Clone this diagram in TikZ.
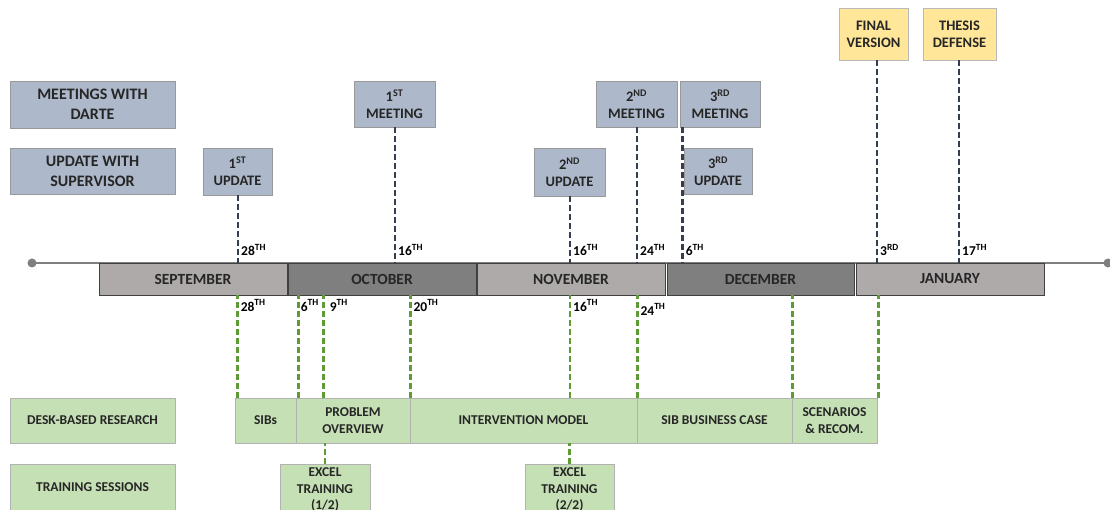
\documentclass[tikz,border=0pt]{standalone}
\usepackage{fontspec}
\setmainfont{Carlito}
\usetikzlibrary{calc}
\definecolor{bgrey}{HTML}{ADB9CA}
\definecolor{ylw}{HTML}{FFE699}
\definecolor{grn}{HTML}{C5E0B4}
\definecolor{mlight}{HTML}{AEAAAA}
\definecolor{mdark}{HTML}{7F7F7F}
\definecolor{navy}{HTML}{333F50}
\definecolor{gdark}{HTML}{5E9A36}
\definecolor{txt}{HTML}{262626}
\newcommand{\ordn}[2]{#1\textsuperscript{#2}}
\tikzset{
  base/.style={rectangle, inner sep=0pt, align=center, text=txt, font=\bfseries},
  bigf/.style={font=\fontsize{16}{20}\selectfont\bfseries},
  midf/.style={font=\fontsize{14.5}{17}\selectfont\bfseries},
  smf/.style={font=\fontsize{13.5}{16.5}\selectfont\bfseries},
  bluebox/.style={base, fill=bgrey, draw=gray!80, line width=0.8pt},
  yelbox/.style={base, fill=ylw, draw=gray!55, line width=0.8pt},
  grnbox/.style={base, fill=grn, draw=gray!60, line width=0.8pt},
  monthL/.style={base, font=\fontsize{15.5}{18}\selectfont\bfseries, fill=mlight, draw=black!75, line width=0.8pt, minimum width=188pt, minimum height=32pt},
  monthD/.style={monthL, fill=mdark},
  ndash/.style={draw=navy, line width=2.6pt, dash pattern=on 6pt off 3pt},
  gdash/.style={draw=gdark, line width=2.6pt, dash pattern=on 6pt off 3pt},
  datel/.style={inner sep=0pt, anchor=west, text=black, font=\fontsize{13.5}{15}\selectfont\bfseries},
}
\begin{document}
\begin{tikzpicture}[x=1pt,y=-1pt]
\useasboundingbox (0,0) rectangle (1110,510);
% timeline
\coordinate (tlA) at (32,263);
\coordinate (tlB) at (1108,263);
\draw[draw=mdark, line width=2pt] (tlA) -- (tlB);
\fill[mdark] (tlA) circle (4.5pt);
\fill[mdark] (tlB) circle (4.5pt);
% months
\node[monthL] (sep) at (193,279) {SEPTEMBER};
\node[monthD] (oct) at (382,279) {OCTOBER};
\node[monthL] (nov) at (571,279) {NOVEMBER};
\node[monthD, minimum width=187pt] (dec) at (760.5,279) {DECEMBER};
\node[monthL] (jan) at (950,279) {JANUARY};
% left labels
\node[bluebox, bigf, minimum width=165pt, minimum height=47pt] (mdarte) at (92.5,104.5) {MEETINGS WITH\\DARTE};
\node[bluebox, bigf, minimum width=165pt, minimum height=46pt] (usup) at (92.5,171) {UPDATE WITH\\SUPERVISOR};
% events
\node[bluebox, midf, minimum width=69pt, minimum height=47pt] (u1) at (237.5,171.5) {\ordn{1}{ST}\\UPDATE};
\node[bluebox, midf, minimum width=81pt, minimum height=46pt] (m1) at (394.5,104) {\ordn{1}{ST}\\MEETING};
\node[bluebox, midf, minimum width=71pt, minimum height=48pt] (u2) at (569.5,172) {\ordn{2}{ND}\\UPDATE};
\node[bluebox, midf, minimum width=81pt, minimum height=46pt] (m2) at (636.5,104) {\ordn{2}{ND}\\MEETING};
\node[bluebox, midf, minimum width=80pt, minimum height=46pt] (m3) at (720,104) {\ordn{3}{RD}\\MEETING};
\node[bluebox, midf, minimum width=68pt, minimum height=46pt] (u3) at (718,171) {\ordn{3}{RD}\\UPDATE};
\node[yelbox, midf, minimum width=69pt, minimum height=52pt] (fv) at (873.5,34) {FINAL\\VERSION};
\node[yelbox, midf, minimum width=73pt, minimum height=52pt] (td) at (959.5,34) {THESIS\\DEFENSE};
% navy dashed connectors
\draw[ndash] ($(u1.south)+(0.5,0)$) -- ($(u1.south |- sep.north)+(0.5,0)$) coordinate (a1);
\draw[ndash] ($(m1.south)+(0.5,0)$) -- ($(m1.south |- oct.north)+(0.5,0)$) coordinate (a2);
\draw[ndash] ($(u2.south)+(0.5,0)$) -- ($(u2.south |- nov.north)+(0.5,0)$) coordinate (a3);
\draw[ndash] ($(m2.south)+(0.5,0)$) -- ($(m2.south |- nov.north)+(0.5,0)$) coordinate (a4);
\draw[ndash] ($(m3.south west)+(3,0)$) -- ($(m3.south west |- dec.north)+(3,0)$) coordinate (a5);
\draw[ndash] ($(fv.south)+(3.5,0)$) -- ($(fv.south |- jan.north)+(3.5,0)$) coordinate (a6);
\draw[ndash] ($(td.south)+(-0.5,0)$) -- ($(td.south |- jan.north)+(-0.5,0)$) coordinate (a7);
\node[datel] (d1) at ($(a1)+(3,-13)$) {\ordn{28}{TH}};
\node[datel] (d2) at ($(a2)+(3,-13)$) {\ordn{16}{TH}};
\node[datel] (d3) at ($(a3)+(3,-13)$) {\ordn{16}{TH}};
\node[datel] (d4) at ($(a4)+(3,-13)$) {\ordn{24}{TH}};
\node[datel] (d5) at ($(a5)+(3,-13)$) {\ordn{6}{TH}};
\node[datel] (d6) at ($(a6)+(3,-13)$) {\ordn{3}{RD}};
\node[datel] (d7) at ($(a7)+(3,-13)$) {\ordn{17}{TH}};
% research row
\node[grnbox, smf, minimum width=165pt, minimum height=45pt] (desk) at (92.5,420.5) {DESK-BASED RESEARCH};
\node[grnbox, smf, minimum width=61pt, minimum height=45pt] (sibs) at (265.5,420.5) {SIBs};
\node[grnbox, smf, minimum width=114pt, minimum height=45pt] (po) at (353,420.5) {PROBLEM\\OVERVIEW};
\node[grnbox, smf, minimum width=227pt, minimum height=45pt] (im) at (523.5,420.5) {INTERVENTION MODEL};
\node[grnbox, smf, minimum width=155pt, minimum height=45pt] (sbc) at (714.5,420.5) {SIB BUSINESS CASE};
\node[grnbox, smf, minimum width=85pt, minimum height=45pt] (scen) at (834.5,420.5) {SCENARIOS\\\& RECOM.};
% training row
\node[grnbox, smf, minimum width=165pt, minimum height=46pt] (tsess) at (92.5,487) {TRAINING SESSIONS};
\node[grnbox, smf, minimum width=90pt, minimum height=52pt] (ex1) at (325,490) {EXCEL\\TRAINING\\(1/2)};
\node[grnbox, smf, minimum width=89pt, minimum height=52pt] (ex2) at (569.5,490) {EXCEL\\TRAINING\\(2/2)};
% green dashed connectors
\draw[gdash] ($(sibs.north west)+(3,0)$) -- ($(sibs.north west |- sep.south)+(3,0)$) coordinate (b1);
\draw[gdash] ($(po.north west)+(3,0)$) -- ($(po.north west |- oct.south)+(3,0)$) coordinate (b2);
\draw[gdash] ($(po.north west)+(28,0)$) -- ($(po.north west |- oct.south)+(28,0)$) coordinate (b3);
\draw[gdash] (po.north east) -- (po.north east |- oct.south) coordinate (b4);
\draw[gdash] ($(im.north)+(46.5,0)$) -- ($(im.north |- nov.south)+(46.5,0)$) coordinate (b5);
\draw[gdash] (im.north east) -- (im.north east |- nov.south) coordinate (b6);
\draw[gdash] (sbc.north east) -- (sbc.north east |- dec.south) coordinate (b7);
\draw[gdash] ($(scen.north east)+(1,0)$) -- ($(scen.north east |- jan.south)+(1,0)$) coordinate (b8);
\node[datel] (e1) at ($(b1)+(3,10)$) {\ordn{28}{TH}};
\node[datel] (e2) at ($(b2)+(2,10)$) {\ordn{6}{TH}};
\node[datel] (e3) at ($(b3)+(6,10)$) {\ordn{9}{TH}};
\node[datel] (e4) at ($(b4)+(3,10)$) {\ordn{20}{TH}};
\node[datel] (e5) at ($(b5)+(3,10)$) {\ordn{16}{TH}};
\node[datel] (e6) at ($(b6)+(3,14)$) {\ordn{24}{TH}};
\draw[gdash] (ex1.north) -- (ex1.north |- po.south);
\draw[gdash] (ex2.north) -- (ex2.north |- im.south);
\end{tikzpicture}
\end{document}
